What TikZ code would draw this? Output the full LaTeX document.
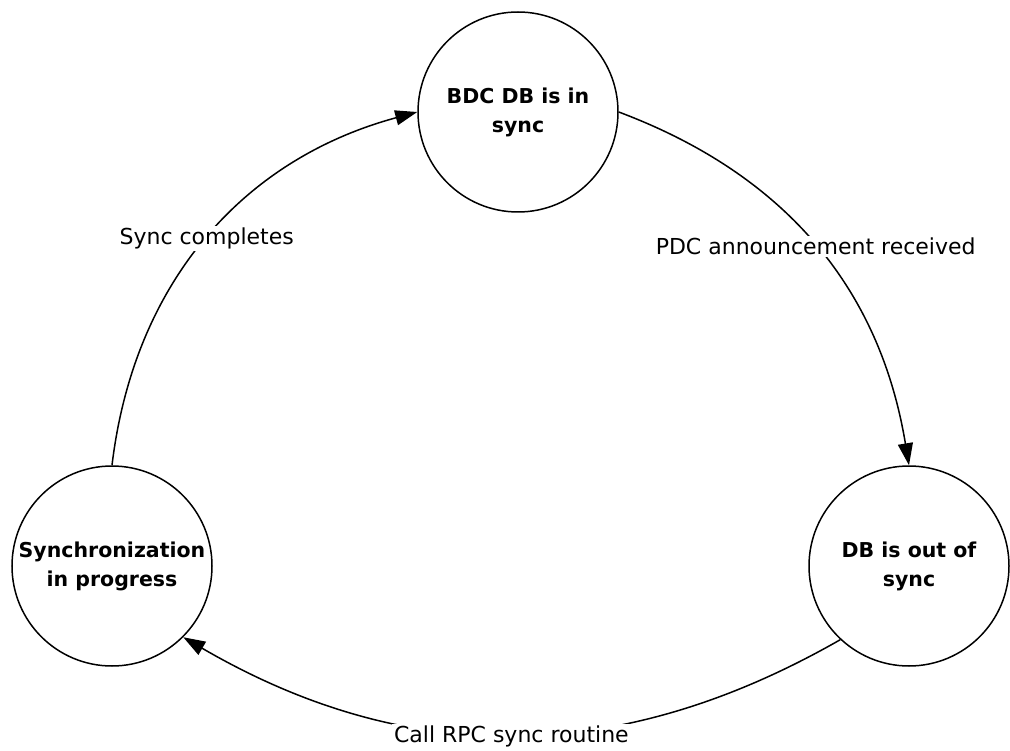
\documentclass[tikz,border=0pt]{standalone}
\usepackage{fontspec}
\setmainfont{DejaVu Sans}
\usetikzlibrary{arrows.meta}

\begin{document}
\begin{tikzpicture}[
      x=1pt, y=-1pt,
      state/.style={draw, circle, line width=1.5pt, minimum size=200pt, inner sep=0pt,
        align=center, font=\bfseries\fontsize{20.5}{29}\selectfont},
      trans/.style={line width=1.5pt, -{Triangle[length=22pt,width=15pt]}},
      lbl/.style={fill=white, inner sep=2pt, font=\fontsize{22}{26}\selectfont},
    ]
    \useasboundingbox (0,0) rectangle (1010,751);
    % Draw the states.
    \node[state] (in_sync) at (518,112) {BDC DB is in\\sync};
    \node[state] (progress) at (112,566) {Synchronization\\in progress};
    \node[state] (out_sync) at (909,566) {DB is out of\\sync};

    % Draw the transitions.
    \draw[trans] (in_sync.east) to[bend left=30]
        node[lbl,midway] {PDC announcement received} (out_sync.north);
    \draw[trans] (out_sync.227) to[bend left=30]
        node[lbl,midway,yshift=-2pt] {Call RPC sync routine} (progress.-45);
    \draw[trans] (progress.north) to[bend left=34]
        node[lbl,midway] {Sync completes} (in_sync.west);
\end{tikzpicture}
\end{document}
